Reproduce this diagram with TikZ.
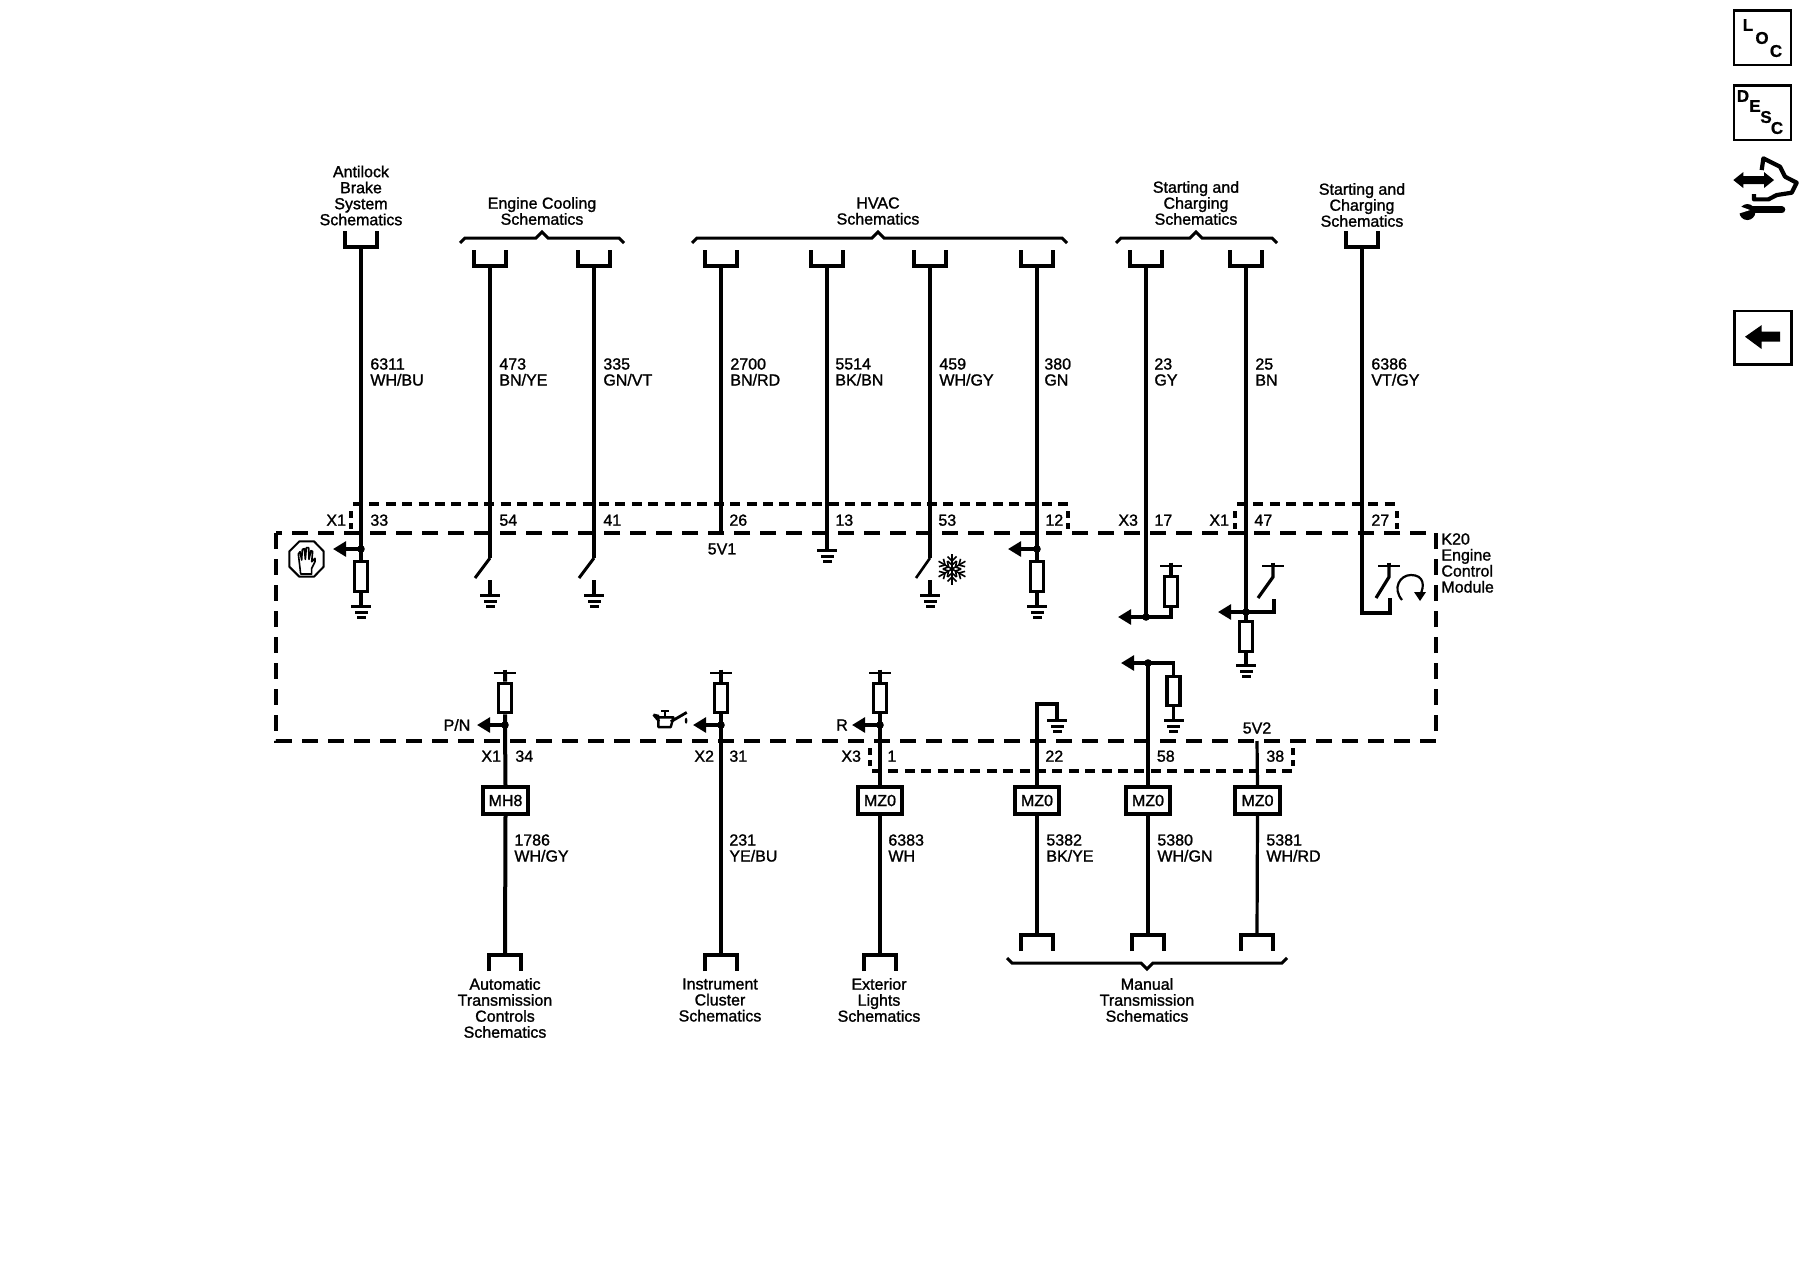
\documentclass[tikz,border=0pt]{standalone}
\usepackage{fontspec}
\newfontfamily\lab[RawFeature={embolden=1.3}]{Liberation Sans}
\newfontfamily\labb[RawFeature={embolden=0.8}]{Liberation Sans Bold}
\usetikzlibrary{arrows.meta}
\tikzset{
  wire/.style={line width=1.75pt,line join=miter},
  thickwire/.style={line width=2pt},
  sig/.style={line width=1.6pt,-{Triangle[length=6.5pt,width=7.4pt]}},
  lead/.style={line width=1.6pt},
  res/.style={draw,fill=white,line width=1.65pt,minimum width=6.6pt,minimum height=14.7pt,inner sep=0pt},
  optbox/.style={draw,fill=white,line width=1.8pt,inner sep=0pt,minimum height=13.5pt,font=\lab\fontsize{8}{8}\selectfont},
  dotn/.style={circle,fill=black,inner sep=0pt,minimum size=3.8pt},
  txt/.style={inner sep=0pt,font=\lab\fontsize{8}{8}\selectfont},
  ctr/.style={txt,align=center,anchor=center},
  lft/.style={txt,align=left,anchor=west},
  pin/.style={txt,anchor=west,text height=5.7pt,text depth=0pt},
  shortdash/.style={line width=1.8pt,dash pattern=on 5pt off 3.2pt},
  vdash/.style={line width=1.8pt,dash pattern=on 3.4pt off 2.6pt},
  moddash/.style={line width=2pt,dash pattern=on 8pt off 5pt},
  brace/.style={line width=1.5pt,line join=miter},
  iconletter/.style={inner sep=0pt,font=\labb\fontsize{8.5}{8.5}\selectfont},
  cupd/.pic={\draw[line width=1.6pt] (-16,-16) -- (-16,0) -- (16,0) -- (16,-16);},
  cupu/.pic={\draw[line width=1.6pt] (-16,16) -- (-16,0) -- (16,0) -- (16,16);},
  gndsym/.pic={
    \fill (-10,-1.5) rectangle (10,1.5);
    \fill (-6.5,4.5) rectangle (6.5,7.5);
    \fill (-4.5,10) rectangle (4.5,13);},
  batt/.pic={
    \draw[line width=1.3pt] (-11,0) -- (11,0);
    \draw[line width=1.7pt] (0,-3.5) -- (0,0);},
}
\begin{document}
\begin{tikzpicture}[x=0.5pt,y=-0.5pt]
\useasboundingbox (0,0) rectangle (1800,1280);
\fill[white] (0,0) rectangle (1800,1280);

% ---- dashed outlines
\draw[moddash] (276,533) rectangle (1436,741);
\draw[shortdash] (353,504) -- (1068,504);
\draw[vdash] (1068,511) -- (1068,529);
\draw[vdash] (351,511) -- (351,529);
\draw[shortdash] (1237,504) -- (1397,504);
\draw[vdash] (1397,511) -- (1397,529);
\draw[vdash] (1235,511) -- (1235,529);
\draw[shortdash] (872,771) -- (1293,771);
\draw[vdash] (1293,748) -- (1293,766);
\draw[vdash] (870,748) -- (870,766);

% ---- top cups
\foreach \n/\x/\y in {c1/361/247,c2/490/266,c3/594/266,c4/721/266,c5/827/266,c6/930/266,c7/1037/266,c8/1146/266,c9/1246/266,c10/1362/247}{
  \coordinate (\n) at (\x,\y);
  \pic at (\n) {cupd};
}
% ---- top braces
\draw[brace] (460,243) -- (465,238) -- (536,238) -- (542,232) -- (548,238) -- (619,238) -- (624,243);
\draw[brace] (692,243) -- (697,238) -- (872,238) -- (878,232) -- (884,238) -- (1062,238) -- (1067,243);
\draw[brace] (1116,243) -- (1121,238) -- (1190,238) -- (1196,232) -- (1202,238) -- (1272,238) -- (1277,243);

% ---- top titles
\node[ctr] (t1) at (361,195.5) {Antilock\\Brake\\System\\Schematics};
\node[ctr] (t2) at (542,211) {Engine Cooling\\Schematics};
\node[ctr] (t3) at (878,211) {HVAC\\Schematics};
\node[ctr] (t4) at (1196,203) {Starting and\\Charging\\Schematics};
\node[ctr] (t5) at (1362,205) {Starting and\\Charging\\Schematics};

% ---- wire labels top
\node[lft] (w1) at (370,372) {6311\\WH/BU};
\node[lft] (w2) at (499,372) {473\\BN/YE};
\node[lft] (w3) at (603,372) {335\\GN/VT};
\node[lft] (w4) at (730,372) {2700\\BN/RD};
\node[lft] (w5) at (835,372) {5514\\BK/BN};
\node[lft] (w6) at (939,372) {459\\WH/GY};
\node[lft] (w7) at (1044,372) {380\\GN};
\node[lft] (w8) at (1154,372) {23\\GY};
\node[lft] (w9) at (1255,372) {25\\BN};
\node[lft] (w10) at (1371,372) {6386\\VT/GY};

% ---- pins top
\node[pin] (p33) at (370,520) {33};
\node[pin] (x1a) at (326,520) {X1};
\node[pin] (p54) at (499,520) {54};
\node[pin] (p41) at (603,520) {41};
\node[pin] (p26) at (729,520) {26};
\node[pin] (p13) at (835,520) {13};
\node[pin] (p53) at (938,520) {53};
\node[pin] (p12) at (1045,520) {12};
\node[pin] (x3a) at (1118,520) {X3};
\node[pin] (p17) at (1154,520) {17};
\node[pin] (x1b) at (1209,520) {X1};
\node[pin] (p47) at (1254,520) {47};
\node[pin] (p27) at (1371,520) {27};

% ---- 6311 circuit
\node[res] (r1) at (361,576.5) {};
\node[dotn] (d1) at (361,549) {};
\coordinate (a1) at (333,549);
\coordinate (g1) at (361,606);
\draw[wire] (c1) -- (d1.center) -- (r1.north);
\draw[wire] (r1.south) -- (g1);
\draw[sig] (d1.center) -- (a1);
\pic at (g1) {gndsym};
% stop-hand icon
\begin{scope}[shift={(260,480)},x=0.1667pt,y=-0.1667pt]
  \draw[line width=1pt,line join=round] (118,184) -- (162,184) -- (191,214) -- (191,260) -- (162,290) -- (118,290) -- (88,260) -- (88,214) -- cycle;
  \draw[line width=0.8pt,line join=round] (122,282) -- (115,222) -- (120,215) -- (125,240) -- (127,208) -- (133,206) -- (136,238) -- (139,203) -- (146,203) -- (147,238) -- (153,212) -- (158,214) -- (155,245) -- (165,235) -- (165,245) -- (155,265) -- (155,282) -- cycle;
\end{scope}

% ---- switches 54, 41
\coordinate (s2) at (490,558); \coordinate (sa2) at (475,578);
\coordinate (g2t) at (490,580); \coordinate (g2) at (490,595);
\draw[wire] (c2) -- (s2);
\draw[line width=1.5pt] (s2) -- (sa2);
\draw[wire] (g2t) -- (g2);
\pic at (g2) {gndsym};
\coordinate (s3) at (594,558); \coordinate (sa3) at (579,578);
\coordinate (g3t) at (594,580); \coordinate (g3) at (594,595);
\draw[wire] (c3) -- (s3);
\draw[line width=1.5pt] (s3) -- (sa3);
\draw[wire] (g3t) -- (g3);
\pic at (g3) {gndsym};

% ---- 2700
\coordinate (e4) at (721,533);
\draw[thickwire] (c4) -- (e4);
\node[txt] (v51) at (722,549) {5V1};

% ---- 5514
\coordinate (g5) at (827,550);
\draw[wire] (c5) -- (g5);
\pic at (g5) {gndsym};

% ---- 459
\coordinate (s6) at (930,558); \coordinate (sa6) at (916,578);
\coordinate (g6t) at (930,580); \coordinate (g6) at (930,595);
\draw[wire] (c6) -- (s6);
\draw[line width=1.3pt] (s6) -- (sa6);
\draw[wire] (g6t) -- (g6);
\pic at (g6) {gndsym};
% snowflake
\begin{scope}[shift={(952,569)}]
  \foreach \a in {30,90,150,210,270,330}{
    \begin{scope}[rotate=\a]
      \draw[line width=0.8pt] (0,0) -- (15.5,0);
      \draw[line width=0.8pt] (4,0) -- (8,4.5) (4,0) -- (8,-4.5);
      \draw[line width=0.8pt] (8,0) -- (12.5,4.5) (8,0) -- (12.5,-4.5);
    \end{scope}
  }
\end{scope}

% ---- 380
\node[res] (r7) at (1037,576.5) {};
\node[dotn] (d7) at (1037,549) {};
\coordinate (a7) at (1008,549);
\coordinate (g7) at (1037,606);
\draw[wire] (c7) -- (d7.center) -- (r7.north);
\draw[wire] (r7.south) -- (g7);
\draw[sig] (d7.center) -- (a7);
\pic at (g7) {gndsym};

% ---- 23
\node[dotn] (d8) at (1146,617) {};
\node[res] (r8) at (1171,591.5) {};
\coordinate (a8) at (1118,617);
\coordinate (b8) at (1171,617);
\coordinate (t8) at (1171,566);
\draw[lead] (c8) -- (d8.center);
\draw[lead] (r8.south) -- (b8) -- (d8.center);
\draw[sig] (d8.center) -- (a8);
\draw[lead] (t8) -- (r8.north);
\pic at (t8) {batt};

% ---- 25
\node[res] (r9) at (1246,636.5) {};
\node[dotn] (d9) at (1246,612) {};
\coordinate (a9) at (1218,612);
\coordinate (b9) at (1274,612);
\coordinate (b9t) at (1274,599);
\coordinate (t9) at (1273,566);
\coordinate (k9) at (1273,577);
\coordinate (sa9) at (1258,598);
\coordinate (g9) at (1246,665);
\draw[lead] (c9) -- (d9.center) -- (r9.north);
\draw[lead] (b9t) -- (b9) -- (d9.center);
\draw[sig] (d9.center) -- (a9);
\draw[lead] (r9.south) -- (g9);
\draw[lead] (t9) -- (k9) -- (sa9);
\pic at (t9) {batt};
\pic at (g9) {gndsym};

% ---- 6386
\coordinate (b10) at (1362,613);
\coordinate (b10a) at (1390,613);
\coordinate (b10t) at (1390,598);
\coordinate (t10) at (1389,566);
\coordinate (k10) at (1389,577);
\coordinate (sa10) at (1376,598);
\draw[lead] (c10) -- (b10) -- (b10a) -- (b10t);
\draw[lead] (t10) -- (k10) -- (sa10);
\pic at (t10) {batt};
\draw[line width=1.1pt] (1402,600) .. controls (1392,588) and (1400,575) .. (1411,575) .. controls (1424,575) and (1425,586) .. (1420,595);
\fill (1420,601) -- (1414,592) -- (1426,592) -- cycle;

% ---- K20 label
\node[lft] (k20) at (1441,563) {K20\\Engine\\Control\\Module};

% ---- lower circuits with power, resistor and arrow
\node[res] (r11) at (505,698) {};
\node[dotn] (d11) at (505,725) {};
\coordinate (t11) at (505,673);
\coordinate (a11) at (477,725);
\node[optbox,minimum width=22.5pt] (bx11) at (505.5,800.5) {MH8};
\coordinate (c11) at (505,955);
\draw[thickwire] (t11) -- (r11.north) (r11.south) -- (d11.center) -- (bx11.north);
\draw[thickwire] (bx11.south) -- (c11);
\draw[sig] (d11.center) -- (a11);
\pic at (t11) {batt};
\pic at (c11) {cupu};
\node[txt] (pn) at (457,725) {P/N};

\node[res] (r12) at (721,698) {};
\node[dotn] (d12) at (721,725) {};
\coordinate (t12) at (721,673);
\coordinate (a12) at (693,725);
\coordinate (c12) at (721,955);
\draw[thickwire] (t12) -- (r12.north) (r12.south) -- (d12.center) -- (c12);
\draw[sig] (d12.center) -- (a12);
\pic at (t12) {batt};
\pic at (c12) {cupu};
% oil can
\begin{scope}[shift={(260,480)},x=0.1667pt,y=-0.1667pt]
  \draw[line width=1.2pt,line join=round] (1195,712) -- (1240,712) -- (1232,741) -- (1195,741) -- cycle;
  \draw[line width=1.2pt] (1215,692) -- (1215,712) (1204,692) -- (1226,692);
  \draw[line width=1.2pt] (1180,704) -- (1197,724) (1180,704) -- (1197,708);
  \draw[line width=1.4pt] (1232,725) -- (1280,697);
  \fill (1278,722) circle (4 and 9);
\end{scope}

\node[res] (r13) at (880,698) {};
\node[dotn] (d13) at (880,725) {};
\coordinate (t13) at (880,673);
\coordinate (a13) at (852,725);
\node[optbox,minimum width=22pt] (bx13) at (880,800.5) {MZ0};
\coordinate (c13) at (880,955);
\draw[wire] (t13) -- (r13.north) (r13.south) -- (d13.center) -- (bx13.north);
\draw[wire] (bx13.south) -- (c13);
\draw[sig] (d13.center) -- (a13);
\pic at (t13) {batt};
\pic at (c13) {cupu};
\node[txt] (rr) at (842,725) {R};

% ---- 5382
\node[optbox,minimum width=22pt] (bx14) at (1037,800.5) {MZ0};
\coordinate (b14) at (1037,704);
\coordinate (b14a) at (1057,704);
\coordinate (g14) at (1057,720);
\coordinate (c14) at (1037,935);
\draw[lead] (bx14.north) -- (b14) -- (b14a) -- (g14);
\draw[wire] (bx14.south) -- (c14);
\pic at (g14) {gndsym};
\pic at (c14) {cupu};

% ---- 5380
\node[optbox,minimum width=22pt] (bx15) at (1148,800.5) {MZ0};
\node[dotn] (d15) at (1148,663) {};
\node[res] (r15) at (1173.5,691) {};
\coordinate (a15) at (1121,663);
\coordinate (b15) at (1173.5,663);
\coordinate (g15) at (1173.5,720);
\coordinate (c15) at (1148,935);
\draw[lead] (bx15.north) -- (d15.center);
\draw[lead] (d15.center) -- (b15) -- (r15.north);
\draw[sig] (d15.center) -- (a15);
\draw[lead] (r15.south) -- (g15);
\draw[lead] (bx15.south) -- (c15);
\pic at (g15) {gndsym};
\pic at (c15) {cupu};

% ---- 5381
\node[optbox,minimum width=22.5pt] (bx16) at (1257.5,800.5) {MZ0};
\coordinate (e16) at (1257,741);
\coordinate (c16) at (1257,935);
\draw[lead] (e16) -- (bx16.north);
\draw[lead] (bx16.south) -- (c16);
\pic at (c16) {cupu};
\node[txt] (v52) at (1257,728) {5V2};

% ---- bottom brace
\draw[brace] (1007,958) -- (1012,963) -- (1141,963) -- (1147,969) -- (1153,963) -- (1282,963) -- (1287,958);

% ---- pins bottom
\node[pin] (x1c) at (481,756) {X1};
\node[pin] (p34) at (515,756) {34};
\node[pin] (x2) at (694,756) {X2};
\node[pin] (p31) at (729,756) {31};
\node[pin] (x3b) at (841,756) {X3};
\node[pin] (p1) at (887,756) {1};
\node[pin] (p22) at (1045,756) {22};
\node[pin] (p58) at (1156.5,756) {58};
\node[pin] (p38) at (1266,756) {38};

% ---- wire labels bottom
\node[lft] (w11) at (514,848) {1786\\WH/GY};
\node[lft] (w12) at (729,848) {231\\YE/BU};
\node[lft] (w13) at (888,848) {6383\\WH};
\node[lft] (w14) at (1046,848) {5382\\BK/YE};
\node[lft] (w15) at (1157,848) {5380\\WH/GN};
\node[lft] (w16) at (1266,848) {5381\\WH/RD};

% ---- bottom titles
\node[ctr] (b1) at (505,1008) {Automatic\\Transmission\\Controls\\Schematics};
\node[ctr] (b2) at (720,1000) {Instrument\\Cluster\\Schematics};
\node[ctr] (b3) at (879,1000) {Exterior\\Lights\\Schematics};
\node[ctr] (b4) at (1147,1000) {Manual\\Transmission\\Schematics};

% ---- side icons
\draw[line width=1.4pt] (1734,10.5) rectangle (1791,65);
\node[iconletter] (l1) at (1748,25) {L};
\node[iconletter] (l2) at (1762,38) {O};
\node[iconletter] (l3) at (1776,51) {C};
\draw[line width=1.4pt] (1734,85.5) rectangle (1791,140);
\node[iconletter] (d1a) at (1743,96) {D};
\node[iconletter] (d2a) at (1755,106) {E};
\node[iconletter] (d3a) at (1766,117) {S};
\node[iconletter] (d4a) at (1777,128) {C};
\begin{scope}[shift={(1700,0)},x=0.1667pt,y=-0.1667pt]
  % double arrow
  \fill (100,540) -- (130,516) -- (130,528) -- (192,528) -- (192,516) -- (222,540) -- (192,564) -- (192,552) -- (130,552) -- (130,564) -- cycle;
  % hand outline
  \draw[line width=2.1pt,line join=round] (185,510) -- (190,475) -- (240,500) -- (255,530) -- (290,548) -- (275,578) -- (230,585) -- (205,598) -- (162,598) -- (162,582);
  % wrench
  \draw[line width=3.6pt,line cap=round] (145,629) -- (245,629);
  \fill (142,636) circle (24);
  \fill[white] (112,616) -- (150,630) -- (112,642) -- cycle;
  % back box
  \draw[line width=1.4pt] (103,933) rectangle (274,1094);
  \fill (135,1010) -- (185,975) -- (185,995) -- (240,995) -- (240,1025) -- (185,1025) -- (185,1047) -- cycle;
\end{scope}
\end{tikzpicture}
\end{document}
